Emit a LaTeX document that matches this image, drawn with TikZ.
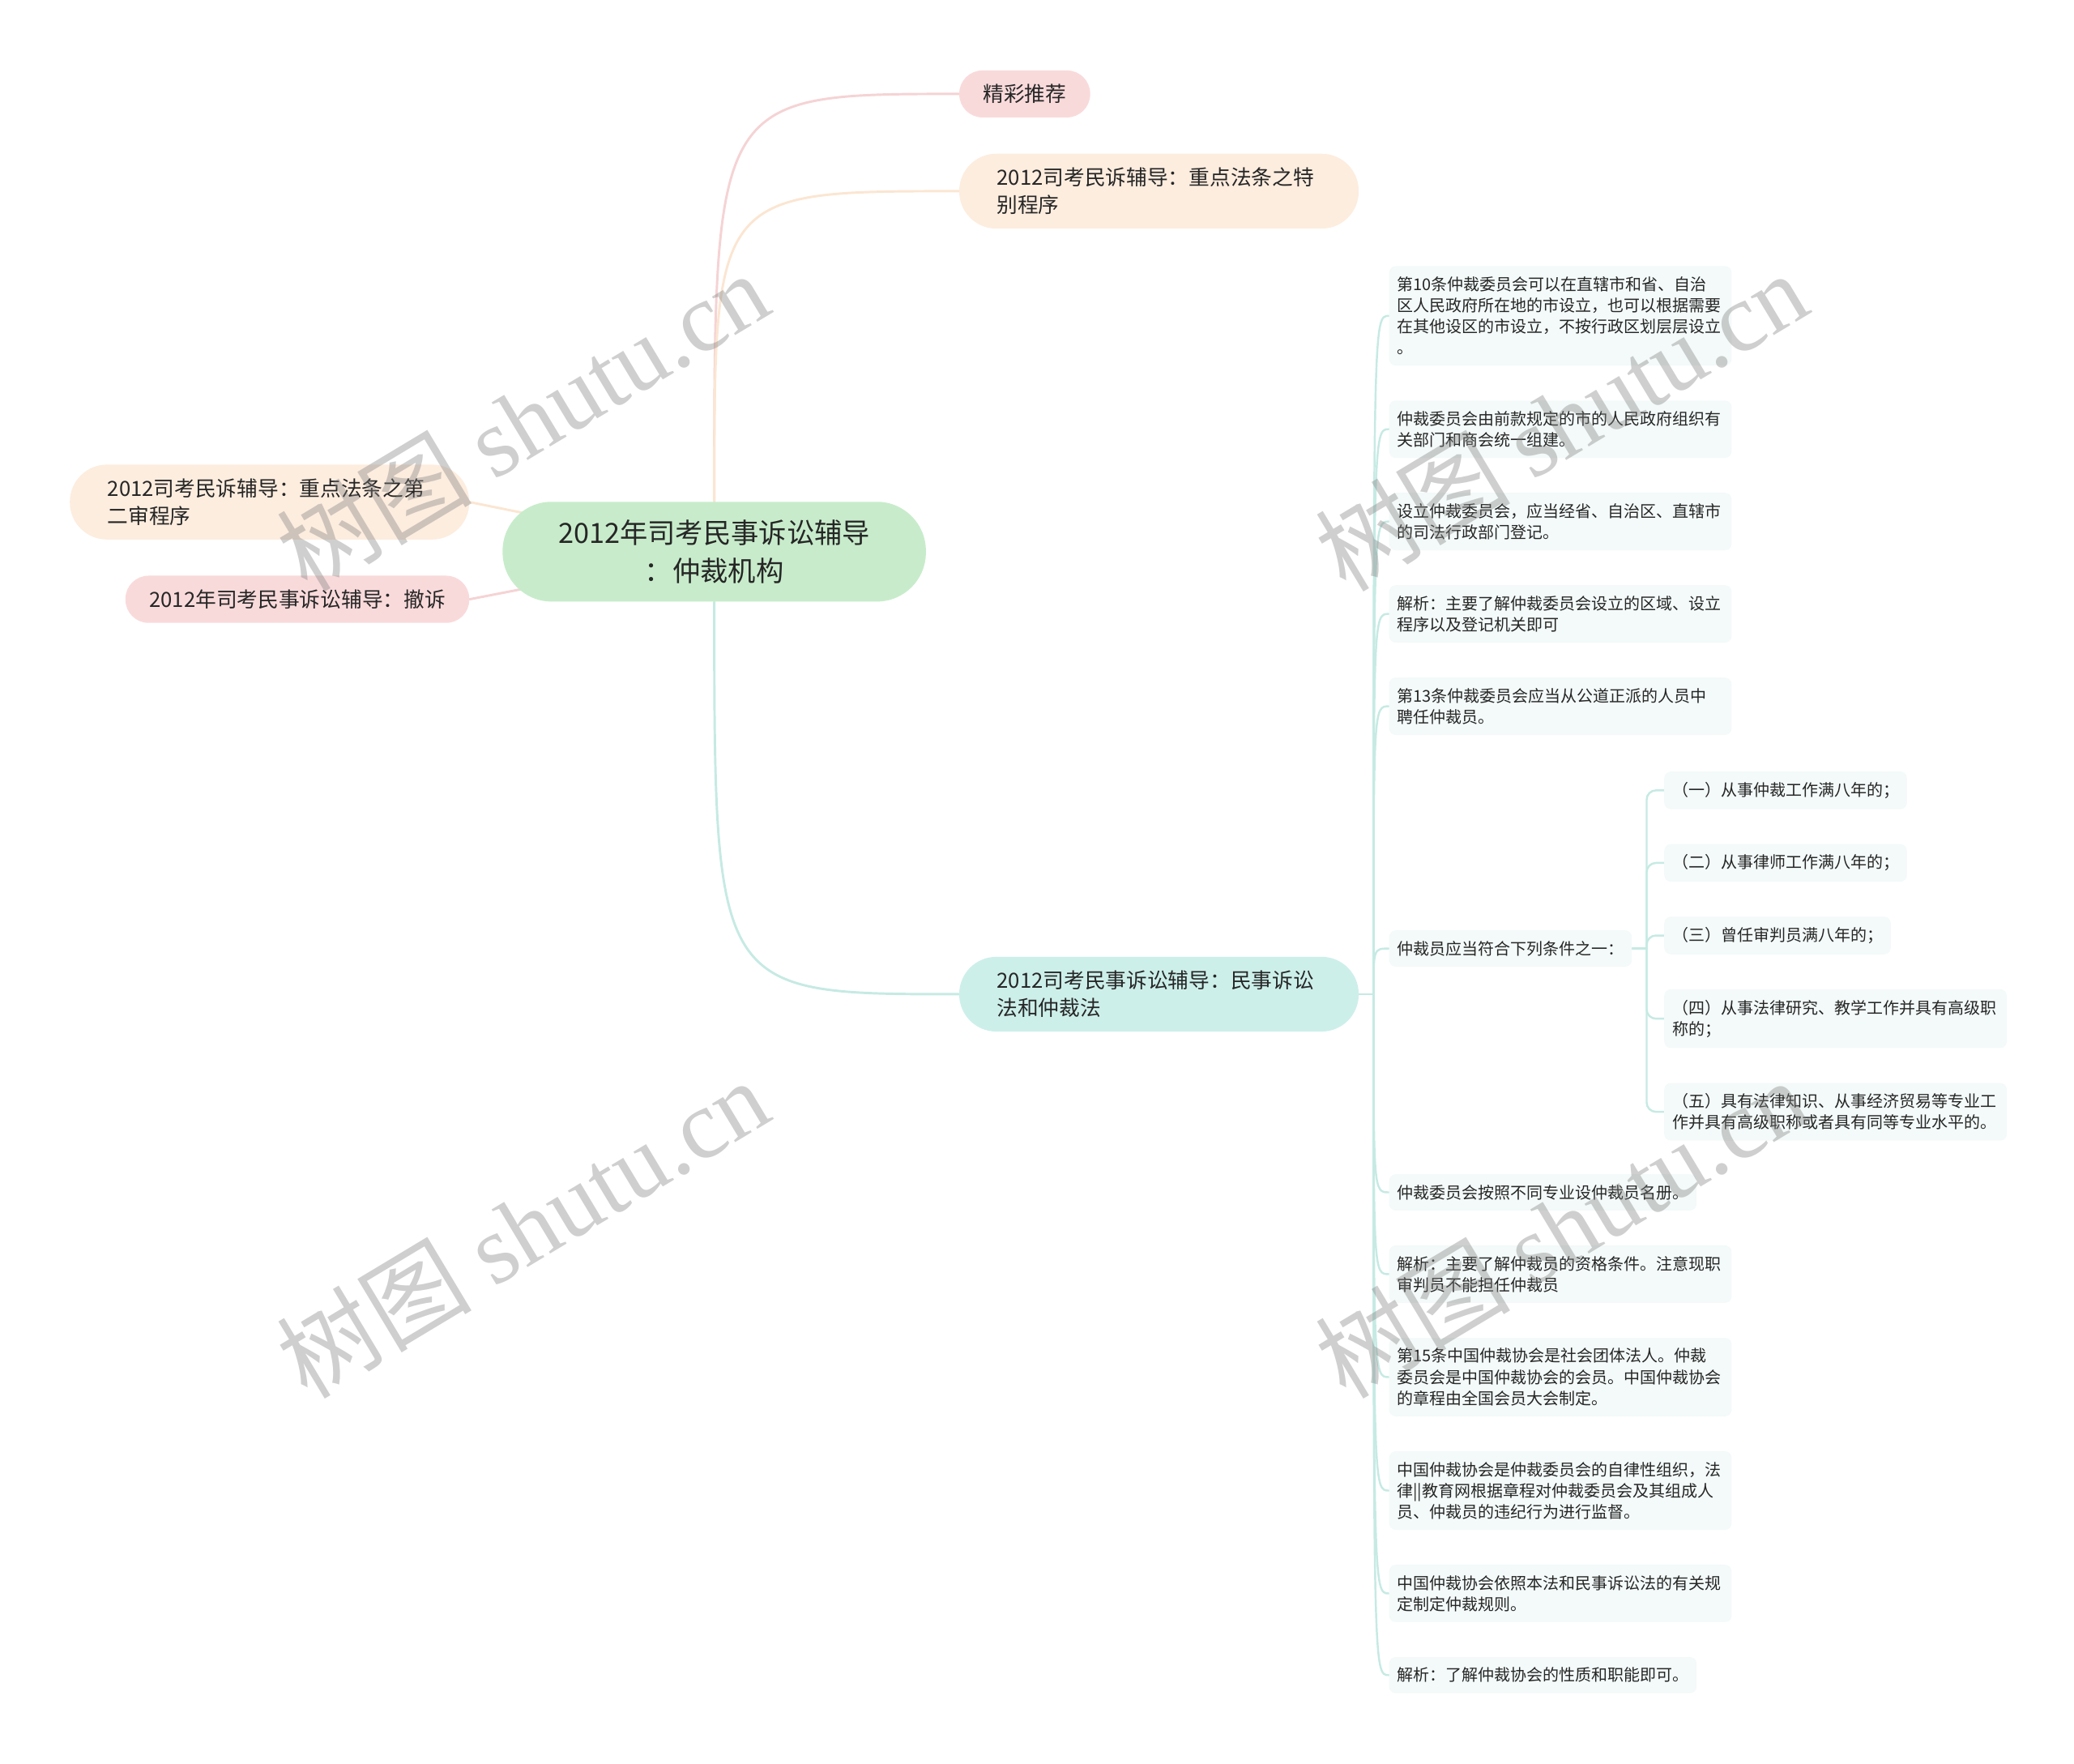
\documentclass[tikz,border=0pt]{standalone}
\usepackage{fontspec}
\setmainfont{Noto Sans CJK SC}
\newfontfamily\wmlatin{Liberation Serif}
\usetikzlibrary{positioning, backgrounds}
\definecolor{RootFill}{HTML}{C8ECCB}
\definecolor{PinkFill}{HTML}{F9DADB}
\definecolor{PeachFill}{HTML}{FDEDDF}
\definecolor{MintFill}{HTML}{CDEFEA}
\definecolor{LeafFill}{HTML}{F3FAF9}
\definecolor{PinkLine}{HTML}{F5D3D4}
\definecolor{PeachLine}{HTML}{FBE6D2}
\definecolor{MintLine}{HTML}{C6EAE3}
\definecolor{TextDark}{HTML}{262626}
\newcommand\rootsize{\fontsize{21}{29}\selectfont}
\newcommand\branchsize{\fontsize{15.75}{21}\selectfont}
\newcommand\leafsize{\fontsize{12.25}{16}\selectfont}
\tikzset{
  rootbox/.style={fill=RootFill, rounded corners=37pt, align=center, text width=240pt,
    inner xsep=40pt, inner ysep=13.5pt, font=\rootsize, text=TextDark},
  pinkbox/.style={fill=PinkFill, rounded corners=17.5pt, inner xsep=18pt, inner ysep=10.5pt,
    font=\branchsize, text=TextDark},
  peachbox/.style={pinkbox, fill=PeachFill},
  mintbox/.style={pinkbox, fill=MintFill},
  widebox/.style={text width=245pt, align=left, inner xsep=28.5pt, rounded corners=28pt},
  leafbox/.style={fill=LeafFill, rounded corners=5pt, inner xsep=6pt, inner ysep=8pt,
    font=\leafsize, text=TextDark, align=left},
  leafwide/.style={leafbox, text width=247pt},
  link/.style={line width=1.8pt, line cap=round},
  twig/.style={line width=1.5pt, line cap=round, draw=MintLine},
  watermark/.style={rotate=31, text=black!50, text opacity=0.38,
    font=\fontsize{74}{74}\selectfont},
}
\begin{document}
\begin{tikzpicture}[x=1pt, y=-1pt, node distance=26pt]
  \useasboundingbox (0,0) rectangle (1568,1333);
  \node[rootbox] (root) at (540,417) {2012年司考民事诉讼辅导\\：仲裁机构};
  \node[pinkbox, anchor=west] (tj) at (725,71) {精彩推荐};
  \node[peachbox, widebox, anchor=west] (tb) at (725,144.5) {2012司考民诉辅导：重点法条之特\\别程序};
  \node[peachbox, widebox, anchor=east] (lf1) at (355,379.5) {2012司考民诉辅导：重点法条之第\\二审程序};
  \node[pinkbox, anchor=east] (lf2) at (355,453) {2012年司考民事诉讼辅导：撤诉};
  \node[mintbox, widebox, anchor=west] (law) at (725,751.5) {2012司考民事诉讼辅导：民事诉讼\\法和仲裁法};

  \node[leafwide, anchor=north west] (L1) at (1050,201) {第10条仲裁委员会可以在直辖市和省、自治\\区人民政府所在地的市设立，也可以根据需要\\在其他设区的市设立，不按行政区划层层设立\\。};
  \node[leafwide, below=of L1.south west, anchor=north west] (L2) {仲裁委员会由前款规定的市的人民政府组织有\\关部门和商会统一组建。};
  \node[leafwide, below=of L2.south west, anchor=north west] (L3) {设立仲裁委员会，应当经省、自治区、直辖市\\的司法行政部门登记。};
  \node[leafwide, below=of L3.south west, anchor=north west] (L4) {解析：主要了解仲裁委员会设立的区域、设立\\程序以及登记机关即可};
  \node[leafwide, below=of L4.south west, anchor=north west] (L5) {第13条仲裁委员会应当从公道正派的人员中\\聘任仲裁员。};

  \node[leafbox, anchor=north west] (S1) at (1258,583) {（一）从事仲裁工作满八年的；};
  \node[leafbox, below=of S1.south west, anchor=north west] (S2) {（二）从事律师工作满八年的；};
  \node[leafbox, below=of S2.south west, anchor=north west] (S3) {（三）曾任审判员满八年的；};
  \node[leafwide, below=of S3.south west, anchor=north west] (S4) {（四）从事法律研究、教学工作并具有高级职\\称的；};
  \node[leafwide, below=of S4.south west, anchor=north west] (S5) {（五）具有法律知识、从事经济贸易等专业工\\作并具有高级职称或者具有同等专业水平的。};
  \node[leafbox, anchor=west] (L6) at (1050,717) {仲裁员应当符合下列条件之一：};

  \node[leafbox, anchor=north west, yshift=-25pt] (L7) at (S5.south -| L6.west) {仲裁委员会按照不同专业设仲裁员名册。};
  \node[leafwide, below=of L7.south west, anchor=north west] (L8) {解析：主要了解仲裁员的资格条件。注意现职\\审判员不能担任仲裁员};
  \node[leafwide, below=of L8.south west, anchor=north west] (L9) {第15条中国仲裁协会是社会团体法人。仲裁\\委员会是中国仲裁协会的会员。中国仲裁协会\\的章程由全国会员大会制定。};
  \node[leafwide, below=of L9.south west, anchor=north west] (L10) {中国仲裁协会是仲裁委员会的自律性组织，法\\律||教育网根据章程对仲裁委员会及其组成人\\员、仲裁员的违纪行为进行监督。};
  \node[leafwide, below=of L10.south west, anchor=north west] (L11) {中国仲裁协会依照本法和民事诉讼法的有关规\\定制定仲裁规则。};
  \node[leafbox, below=of L11.south west, anchor=north west] (L12) {解析：了解仲裁协会的性质和职能即可。};

  \coordinate (lawj) at ([xshift=11pt]law.east);
  \coordinate (capj) at ([xshift=11pt]L6.east);
  \begin{scope}[on background layer]
    \draw[link, draw=PinkLine] (root.north) .. controls (root.north |- tj.west) .. (tj.west);
    \draw[link, draw=PeachLine] (root.north) .. controls (root.north |- tb.west) .. (tb.west);
    \draw[link, draw=PeachLine] (lf1.east) -- (root.center);
    \draw[link, draw=PinkLine] (lf2.east) -- (root.center);
    \draw[link, draw=MintLine] (root.south) .. controls (root.south |- law.west) .. (law.west);
    \draw[twig] (law.east) -- (lawj);
    \foreach \n in {L1,L2,L3,L4,L5,L6,L7,L8,L9,L10,L11,L12}
      \draw[twig] (lawj) .. controls (lawj |- \n.west) .. (\n.west);
    \draw[twig] (L6.east) -- (capj);
    \foreach \s in {S1,S2,S3,S4,S5}
      \draw[twig, rounded corners=7pt] (capj) |- (\s.west);
  \end{scope}

  \foreach \p [count=\i] in {(395,318),(1180,318),(395,928),(1180,928)}
    \node[watermark] (wm\i) at \p {树图 {\wmlatin shutu.cn}};
\end{tikzpicture}
\end{document}
